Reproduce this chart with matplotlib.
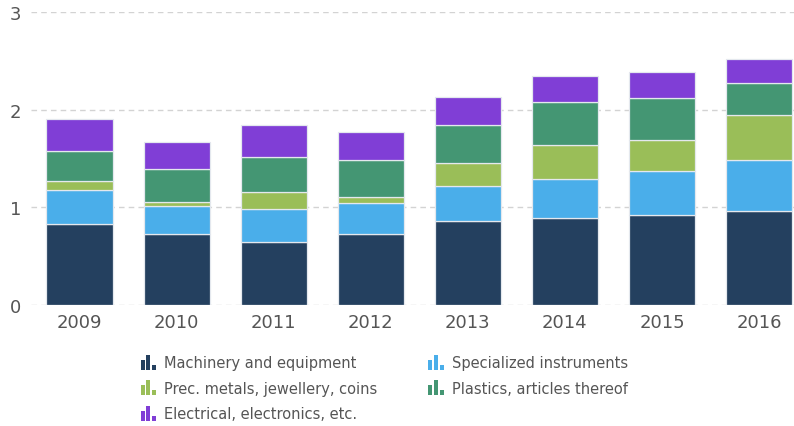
import numpy as np
import matplotlib
matplotlib.use("Agg")
import matplotlib.pyplot as plt
from matplotlib.patches import Rectangle, Patch
from matplotlib.legend_handler import HandlerBase

years = ['2009', '2010', '2011', '2012', '2013', '2014', '2015', '2016']
machinery = [0.83, 0.73, 0.64, 0.73, 0.86, 0.89, 0.92, 0.96]
specialized = [0.35, 0.28, 0.34, 0.31, 0.36, 0.40, 0.45, 0.52]
prec_metals = [0.09, 0.04, 0.18, 0.07, 0.23, 0.35, 0.32, 0.47]
plastics = [0.31, 0.34, 0.36, 0.37, 0.39, 0.44, 0.43, 0.32]
electrical = [0.32, 0.28, 0.32, 0.29, 0.29, 0.26, 0.27, 0.25]

series = [
    ('Machinery and equipment', machinery, '#24405f'),
    ('Specialized instruments', specialized, '#4aaeea'),
    ('Prec. metals, jewellery, coins', prec_metals, '#9abe58'),
    ('Plastics, articles thereof', plastics, '#449673'),
    ('Electrical, electronics, etc.', electrical, '#803ed6'),
]


class BarIcon(HandlerBase):
    # little three-bar glyph like the original legend
    def create_artists(self, legend, orig_handle, xdescent, ydescent,
                       width, height, fontsize, trans):
        c = orig_handle.get_facecolor()
        w = width / 4.0
        arts = []
        for i, h in enumerate([0.8, 1.15, 0.4]):
            r = Rectangle((-xdescent + i * w * 1.5, -ydescent - 0.1 * height), w, h * height,
                          facecolor=c, edgecolor='none', transform=trans)
            arts.append(r)
        return arts


fig = plt.figure(figsize=(7.94, 4.27), dpi=100)
ax = fig.add_axes([0.039, 0.2834, 0.961, 0.6862])

x = np.arange(len(years))
bottom = np.zeros(len(years))
handles = {}
for name, vals, col in series:
    ax.bar(x, vals, 0.68, bottom=bottom, color=col, edgecolor='#e4e8ee', linewidth=0.9, zorder=3)
    bottom += np.array(vals)
    handles[name] = Patch(facecolor=col)

ax.set_ylim(0, 3)
ax.set_xlim(-0.5, 7.36)
ax.set_yticks([0, 1, 2, 3])
ax.set_xticks(x)
ax.set_xticklabels(years)
ax.yaxis.grid(True, linestyle=(0, (4, 3)), color='#d3d3d3', linewidth=1, zorder=0)
ax.set_axisbelow(True)
for s in ax.spines.values():
    s.set_visible(False)
ax.tick_params(axis='both', length=0, labelsize=13, colors='#555555')
ax.tick_params(axis='y', pad=7)
ax.tick_params(axis='x', pad=6)

order = ['Machinery and equipment', 'Prec. metals, jewellery, coins',
         'Electrical, electronics, etc.', 'Specialized instruments',
         'Plastics, articles thereof']
leg = fig.legend([handles[n] for n in order], order, ncol=2,
                 loc='upper left', bbox_to_anchor=(0.168, 0.183), frameon=False,
                 handler_map={Patch: BarIcon()}, fontsize=10.5,
                 handlelength=1.05, handleheight=1.0, handletextpad=0.55,
                 columnspacing=3.5, labelspacing=0.72, borderpad=0)
for t in leg.get_texts():
    t.set_color('#555555')

fig.savefig('out.png', dpi=100)
